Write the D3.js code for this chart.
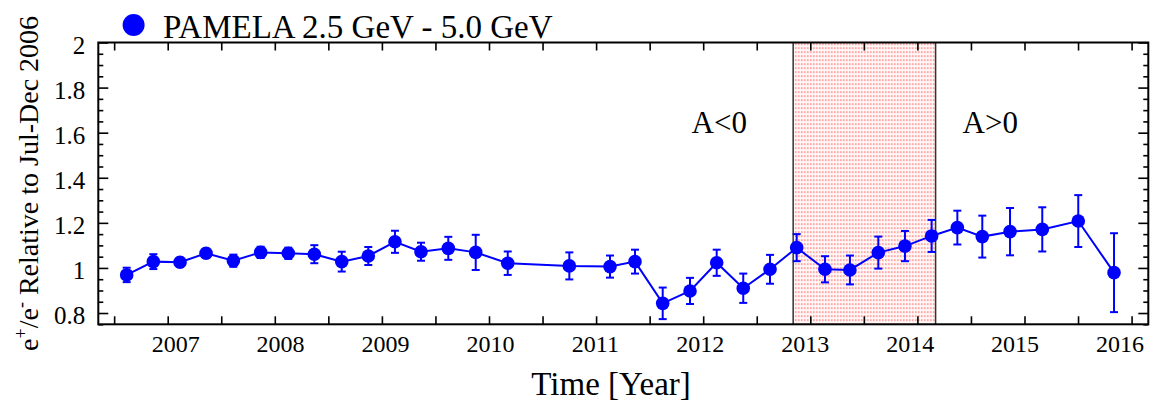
<!DOCTYPE html>
<html>
<head>
<meta charset="utf-8">
<script src="https://cdn.jsdelivr.net/npm/d3@7"></script>
<style>
  html, body { margin: 0; padding: 0; background: #fff; }
  svg { display: block; }
  svg text { font-family: "Liberation Serif", "Times New Roman", serif; }
</style>
</head>
<body>
<div id="chart"></div>
<script>
// ── Data ─────────────────────────────────────────────────────────────────
const SERIES_NAME = 'PAMELA 2.5 GeV - 5.0 GeV';
const YEARS = [
  2006.617, 2006.866, 2007.115, 2007.358, 2007.613, 2007.868, 2008.126, 2008.369,
  2008.625, 2008.873, 2009.122, 2009.365, 2009.620, 2009.876, 2010.175, 2010.750,
  2011.130, 2011.363, 2011.622, 2011.877, 2012.126, 2012.374, 2012.624, 2012.873,
  2013.137, 2013.370, 2013.635, 2013.884, 2014.133, 2014.373, 2014.606, 2014.865,
  2015.166, 2015.502, 2015.836
];
const RATIO = [
  0.969, 1.028, 1.025, 1.065, 1.032, 1.069, 1.065, 1.061,
  1.028, 1.053, 1.116, 1.072, 1.087, 1.069, 1.021, 1.009,
  1.006, 1.028, 0.843, 0.898, 1.023, 0.910, 0.994, 1.090,
  0.994, 0.991, 1.068, 1.097, 1.142, 1.179, 1.139, 1.161,
  1.171, 1.208, 0.979
];
const ERR = [
  0.032, 0.033, 0.020, 0.020, 0.027, 0.025, 0.025, 0.040,
  0.044, 0.040, 0.049, 0.040, 0.051, 0.078, 0.052, 0.060,
  0.049, 0.053, 0.070, 0.058, 0.058, 0.065, 0.064, 0.060,
  0.058, 0.064, 0.071, 0.067, 0.071, 0.075, 0.093, 0.105,
  0.098, 0.115, 0.175
];
const Y_TICKS = [0.8, 1, 1.2, 1.4, 1.6, 1.8, 2];
const X_TICK_LABELS = [2007, 2008, 2009, 2010, 2011, 2012, 2013, 2014, 2015, 2016];
const SHADED = [2012.84, 2014.17];
const REGION_TEXT = ['A<0', 'A>0'];
const REGION_YEAR = [2012.15, 2014.68];
const REGION_Y = 1.6;

// ── Layout ────────────────────────────────────────────────────────────────
const width = 1161;
const height = 407;
const margin = { top: 42.5, right: 12.7, bottom: 82.7, left: 98.3 };
const innerW = width - margin.left - margin.right;
const innerH = height - margin.top - margin.bottom;
const BLUE = '#0000ff';
const SERIF = '"Liberation Serif", "Times New Roman", serif';

const svg = d3.select('#chart')
  .append('svg')
  .attr('width', width)
  .attr('height', height)
  .attr('viewBox', `0 0 ${width} ${height}`)
  .attr('font-family', SERIF);

const g = svg.append('g')
  .attr('transform', `translate(${margin.left},${margin.top})`);

const xScale = d3.scaleLinear()
  .domain([2006.352, 2016.156])
  .range([0, innerW]);

// year labels in the reference drift slightly against their ticks
const xLabelScale = d3.scaleLinear()
  .domain([2007, 2016])
  .range([xScale(2007) + 8, xScale(2016) - 11.6]);

const yScale = d3.scaleLinear()
  .domain([0.75, 2.0])
  .range([innerH, 0]);

// ── Shaded A-transition band ──────────────────────────────────────────────
const defs = svg.append('defs');
const pat = defs.append('pattern')
  .attr('id', 'dots')
  .attr('patternUnits', 'userSpaceOnUse')
  .attr('width', 3)
  .attr('height', 4);
pat.append('rect').attr('width', 3).attr('height', 4).attr('fill', '#fff6f6');
pat.append('rect').attr('x', 1).attr('y', 1).attr('width', 1.2).attr('height', 1.2)
  .attr('fill', '#ff1a1a').attr('opacity', 0.85);

g.append('rect')
  .attr('x', xScale(SHADED[0]))
  .attr('y', 0)
  .attr('width', xScale(SHADED[1]) - xScale(SHADED[0]))
  .attr('height', innerH)
  .attr('fill', 'url(#dots)');

SHADED.forEach(yr => {
  g.append('line')
    .attr('x1', xScale(yr)).attr('x2', xScale(yr))
    .attr('y1', 0).attr('y2', innerH)
    .attr('stroke', '#333').attr('stroke-width', 1.5);
});

REGION_TEXT.forEach((t, i) => {
  g.append('text')
    .attr('x', xScale(REGION_YEAR[i]))
    .attr('y', yScale(REGION_Y))
    .attr('text-anchor', 'middle')
    .attr('font-family', SERIF)
    .attr('font-size', 31)
    .attr('fill', '#000')
    .text(t);
});

// ── Axes (ticks on all four sides, pointing inward) ──────────────────────
const xTicks = d3.range(2006.5, 2016.01, 0.5);
const yMajor = Y_TICKS;
const yMinor = d3.range(0.75, 2.001, 0.05).map(v => +v.toFixed(2))
  .filter(v => !yMajor.some(m => Math.abs(m - v) < 1e-6));

function styleAxis(ax) {
  ax.select('.domain').remove();
  ax.selectAll('.tick line').attr('stroke', '#000').attr('stroke-width', 1.6);
  ax.selectAll('.tick text').remove();
}

g.append('g')
  .attr('transform', `translate(0,${innerH})`)
  .call(d3.axisBottom(xScale).tickValues(xTicks).tickSizeInner(-8).tickSizeOuter(0))
  .call(styleAxis);
g.append('g')
  .call(d3.axisTop(xScale).tickValues(xTicks).tickSizeInner(-8).tickSizeOuter(0))
  .call(styleAxis);

[[d3.axisLeft, 0], [d3.axisRight, innerW]].forEach(([axisFn, tx]) => {
  g.append('g')
    .attr('transform', `translate(${tx},0)`)
    .call(axisFn(yScale).tickValues(yMajor).tickSizeInner(-10).tickSizeOuter(0))
    .call(styleAxis);
  g.append('g')
    .attr('transform', `translate(${tx},0)`)
    .call(axisFn(yScale).tickValues(yMinor).tickSizeInner(-5).tickSizeOuter(0))
    .call(styleAxis);
});

// tick labels
g.append('g')
  .selectAll('text')
  .data(X_TICK_LABELS)
  .enter()
  .append('text')
  .attr('x', d => xLabelScale(d))
  .attr('y', innerH + 28)
  .attr('text-anchor', 'middle')
  .attr('font-family', SERIF)
  .attr('font-size', 24)
  .attr('fill', '#000')
  .text(d => d);

g.append('g')
  .selectAll('text')
  .data(Y_TICKS)
  .enter()
  .append('text')
  .attr('x', -13)
  .attr('y', d => yScale(d) + 11)
  .attr('text-anchor', 'end')
  .attr('font-family', SERIF)
  .attr('font-size', 25)
  .attr('fill', '#000')
  .text(d => d3.format('~g')(d));

// frame
g.append('rect')
  .attr('width', innerW)
  .attr('height', innerH)
  .attr('fill', 'none')
  .attr('stroke', '#000')
  .attr('stroke-width', 2);

// ── Series ────────────────────────────────────────────────────────────────
const points = YEARS.map((yr, i) => ({ x: yr, y: RATIO[i], e: ERR[i] }));

const line = d3.line()
  .x(d => xScale(d.x))
  .y(d => yScale(d.y));

g.append('path')
  .datum(points)
  .attr('fill', 'none')
  .attr('stroke', BLUE)
  .attr('stroke-width', 2)
  .attr('d', line);

const bars = g.append('g')
  .attr('stroke', BLUE)
  .attr('stroke-width', 2);
points.forEach(d => {
  const cx = xScale(d.x);
  const y0 = yScale(d.y - d.e);
  const y1 = yScale(d.y + d.e);
  bars.append('line').attr('x1', cx).attr('x2', cx).attr('y1', y0).attr('y2', y1);
  bars.append('line').attr('x1', cx - 4).attr('x2', cx + 4).attr('y1', y0).attr('y2', y0);
  bars.append('line').attr('x1', cx - 4).attr('x2', cx + 4).attr('y1', y1).attr('y2', y1);
});

g.selectAll('.dot')
  .data(points)
  .enter()
  .append('circle')
  .attr('class', 'dot')
  .attr('cx', d => xScale(d.x))
  .attr('cy', d => yScale(d.y))
  .attr('r', 6.8)
  .attr('fill', BLUE);

// ── Titles & legend ──────────────────────────────────────────────────────
svg.append('text')
  .attr('x', margin.left + xScale(2011.14))
  .attr('y', height - 12)
  .attr('text-anchor', 'middle')
  .attr('font-family', SERIF)
  .attr('font-size', 33)
  .attr('fill', '#000')
  .text('Time [Year]');

const yTitle = svg.append('text')
  .attr('transform', `translate(38,${margin.top + innerH / 2}) rotate(-90)`)
  .attr('text-anchor', 'middle')
  .attr('font-family', SERIF)
  .attr('font-size', 28)
  .attr('fill', '#000');
yTitle.append('tspan').text('e');
yTitle.append('tspan').attr('font-size', 18).attr('dy', -11).text('+');
yTitle.append('tspan').attr('dy', 11).text('/e');
yTitle.append('tspan').attr('font-size', 18).attr('dy', -11).text('-');
yTitle.append('tspan').attr('dy', 11).text(' Relative to Jul-Dec 2006');

svg.append('circle')
  .attr('cx', 133.6)
  .attr('cy', 25)
  .attr('r', 11)
  .attr('fill', BLUE);
svg.append('text')
  .attr('x', 163)
  .attr('y', 38)
  .attr('font-family', SERIF)
  .attr('font-size', 33)
  .attr('fill', '#000')
  .text(SERIES_NAME);
</script>
</body>
</html>
